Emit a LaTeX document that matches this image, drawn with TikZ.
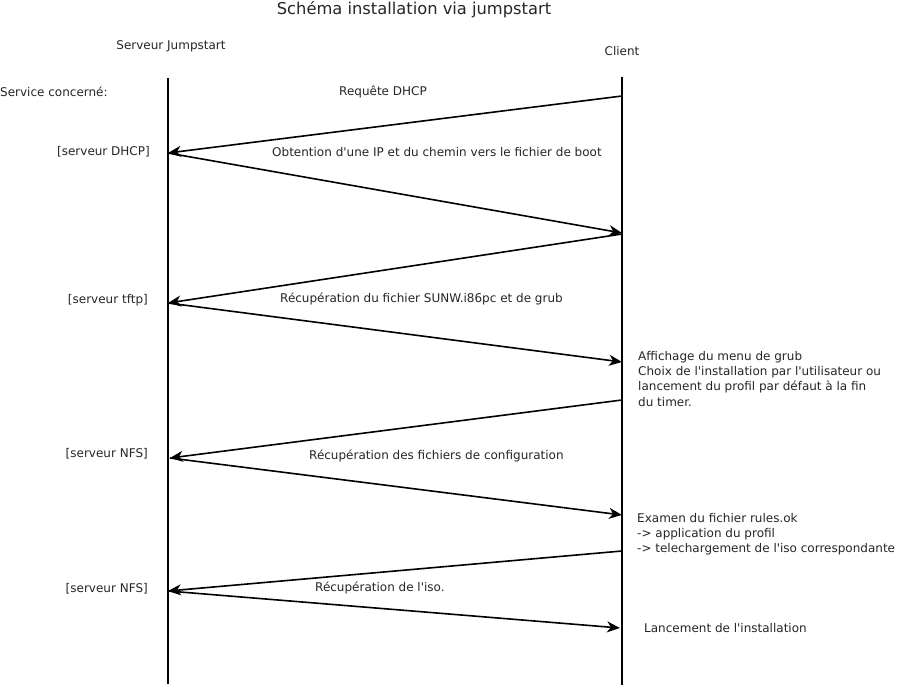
\documentclass[tikz,border=0pt]{standalone}
\usepackage{fontspec}
\setmainfont{DejaVu Sans}
\usetikzlibrary{arrows.meta}
\newcommand{\q}{\textquotesingle}
\begin{document}
\begin{tikzpicture}[x=1pt,y=-1pt,
  lbl/.style={inner sep=0pt,font=\fontsize{12}{15.3}\selectfont,text=black!85},
  life/.style={line width=1.9pt},
  msg/.style={line width=1.6pt,-{Stealth[length=13pt,width=11pt,inset=4pt]}}]
\useasboundingbox[fill=white] (0,0) rectangle (900,687);
% title and participants
\node[lbl,font=\fontsize{16.3}{19}\selectfont] (title) at (414,10) {Schéma installation via jumpstart};
\node[lbl] (srv) at (171,46) {Serveur Jumpstart};
\node[lbl] (cli) at (622,51) {Client};
% lifelines
\coordinate (stop) at (168,78);
\coordinate (sbot) at (168,684);
\coordinate (ctop) at (622,77);
\coordinate (cbot) at (622,685);
\draw[life] (stop) -- (sbot);
\draw[life] (ctop) -- (cbot);
% message endpoints
\coordinate (c1) at (622,96);
\coordinate (s1) at (168,153);
\coordinate (c2) at (622,233);
\coordinate (c3) at (622,234);
\coordinate (s2) at (168,303);
\coordinate (c4) at (622,362);
\coordinate (c5) at (622,400);
\coordinate (s3) at (170,458);
\coordinate (c6) at (622,515);
\coordinate (c7) at (622,551);
\coordinate (s4) at (168,591);
\coordinate (c8) at (620,628);
% messages
\draw[msg] (c1) -- (s1);
\draw[msg] (s1) -- (c2);
\draw[msg] (c3) -- (s2);
\draw[msg] (s2) -- (c4);
\draw[msg] (c5) -- (s3);
\draw[msg] (s3) -- (c6);
\draw[msg] (c7) -- (s4);
\draw[msg] (s4) -- (c8);
% left labels
\node[lbl,anchor=west] (svc) at (0,92) {Service concerné:};
\node[lbl,anchor=east] (dhcp) at (150,152) {[serveur DHCP]};
\node[lbl,anchor=east] (tftp) at (148,300) {[serveur tftp]};
\node[lbl,anchor=east] (nfs1) at (148,454) {[serveur NFS]};
\node[lbl,anchor=east] (nfs2) at (148,589) {[serveur NFS]};
% message labels
\node[lbl] (m1) at (383,92) {Requête DHCP};
\node[lbl,anchor=west] (m2) at (272,152) {Obtention d\q une IP et du chemin vers le fichier de boot};
\node[lbl,anchor=west] (m3) at (280,299) {Récupération du fichier SUNW.i86pc et de grub};
\node[lbl,anchor=west] (m4) at (309,456) {Récupération des fichiers de configuration};
\node[lbl,anchor=west] (m5) at (315,588) {Récupération de l\q iso.};
% client notes
\node[lbl,anchor=north west,align=left] (n1) at (638,351) {Affichage du menu de grub\\Choix de l\q installation par l\q utilisateur ou\\lancement du profil par défaut à la fin\\du timer.};
\node[lbl,anchor=north west,align=left] (n2) at (637,513) {Examen du fichier rules.ok\\-> application du profil\\-> telechargement de l\q iso correspondante};
\node[lbl,anchor=west] (n3) at (644,628) {Lancement de l\q installation};
\end{tikzpicture}
\end{document}
